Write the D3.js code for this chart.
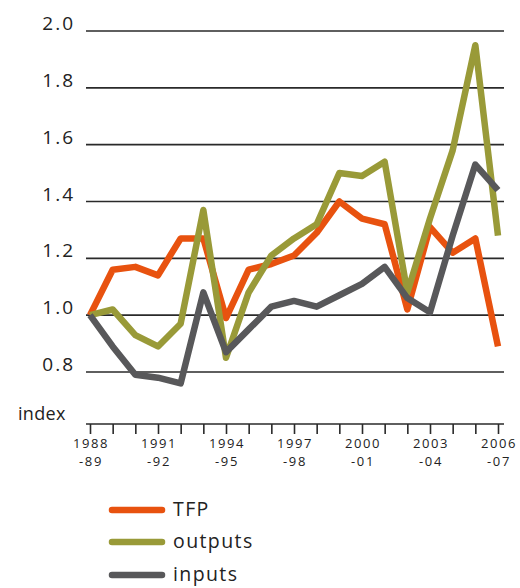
<!DOCTYPE html>
<html><head><meta charset="utf-8">
<script src="https://cdn.jsdelivr.net/npm/d3@7"></script>
<style>
html,body{margin:0;padding:0;background:#fff;}
svg{display:block;}
text{font-family:"Open Sans",sans-serif;fill:#222;}
</style></head>
<body>
<svg id="chart" width="520" height="588"></svg>
<script>
const years = ["1988-89","1989-90","1990-91","1991-92","1992-93","1993-94","1994-95","1995-96","1996-97","1997-98","1998-99","1999-00","2000-01","2001-02","2002-03","2003-04","2004-05","2005-06","2006-07"];
const tickLabelsTop = ["1988","1991","1994","1997","2000","2003","2006"];
const tickLabelsBottom = ["-89","-92","-95","-98","-01","-04","-07"];
const yTicks = [0.8,1.0,1.2,1.4,1.6,1.8,2.0];
const yTickLabels = ["0.8","1.0","1.2","1.4","1.6","1.8","2.0"];
const tfp     = [1.00,1.16,1.17,1.14,1.27,1.27,0.99,1.16,1.18,1.21,1.29,1.40,1.34,1.32,1.02,1.31,1.22,1.27,0.89];
const outputs = [1.00,1.02,0.93,0.89,0.97,1.37,0.85,1.08,1.21,1.27,1.32,1.50,1.49,1.54,1.08,1.34,1.58,1.95,1.28];
const inputs  = [1.00,0.89,0.79,0.78,0.76,1.08,0.87,0.95,1.03,1.05,1.03,1.07,1.11,1.17,1.06,1.01,1.28,1.53,1.44];
const seriesNames = ["TFP","outputs","inputs"];
const seriesColors = ["#E8520F","#999A38","#58585A"];

const svg = d3.select("#chart");
const x = d3.scaleLinear().domain([0, years.length-1]).range([90, 498]);
const y = d3.scaleLinear().domain([0.8, 2.0]).range([372, 31]);

// gridlines
svg.append("g").selectAll("line").data(yTicks).join("line")
  .attr("x1",86).attr("x2",504)
  .attr("y1",d=>y(d)).attr("y2",d=>y(d))
  .attr("stroke","#2a2a2a").attr("stroke-width",1.6);

// y labels
svg.append("g").selectAll("text").data(yTicks).join("text")
  .attr("x",75).attr("y",(d)=>y(d)-1)
  .attr("text-anchor","end")
  .style("font-size","19px").style("letter-spacing","2px")
  .text((d,i)=>yTickLabels[i]);

svg.append("text").attr("x",18).attr("y",420)
  .style("font-size","18px").style("letter-spacing","0.3px").text("index");

// x axis
const xAxis = d3.axisBottom(x).tickValues(d3.range(years.length)).tickSize(10).tickFormat("");
const ax = svg.append("g").attr("transform","translate(0,424)").call(xAxis);
ax.select(".domain").attr("d","M86,0H504").attr("stroke","#2a2a2a").attr("stroke-width",1.6);
ax.selectAll(".tick line").attr("stroke","#2a2a2a").attr("stroke-width",1.6);

const labelIdx = d3.range(0, years.length, 3);
svg.append("g").selectAll("text").data(labelIdx).join("text")
  .attr("x",d=>x(d)+1).attr("y",448)
  .attr("text-anchor","middle")
  .style("font-size","13px").style("letter-spacing","1.6px")
  .text((d,i)=>tickLabelsTop[i]);
svg.append("g").selectAll("text").data(labelIdx).join("text")
  .attr("x",d=>x(d)+1).attr("y",466)
  .attr("text-anchor","middle")
  .style("font-size","13px").style("letter-spacing","1.6px")
  .text((d,i)=>tickLabelsBottom[i]);

// lines
const line = d3.line().x((d,i)=>x(i)).y(d=>y(d));
[tfp, outputs, inputs].forEach((s,k)=>{
  svg.append("path").datum(s).attr("d",line)
    .attr("fill","none").attr("stroke",seriesColors[k])
    .attr("stroke-width",6.5).attr("stroke-linejoin","round");
});

// legend
const legY = [510,542,575];
const leg = svg.append("g").selectAll("g").data(seriesNames).join("g")
  .attr("transform",(d,i)=>`translate(0,${legY[i]})`);
leg.append("line").attr("x1",112).attr("x2",162).attr("y1",0).attr("y2",0)
  .attr("stroke",(d,i)=>seriesColors[i]).attr("stroke-width",6.5).attr("stroke-linecap","round");
leg.append("text").attr("x",173).attr("y",6)
  .style("font-size","19.5px").style("letter-spacing","1.4px").text(d=>d);
</script>
</body></html>
